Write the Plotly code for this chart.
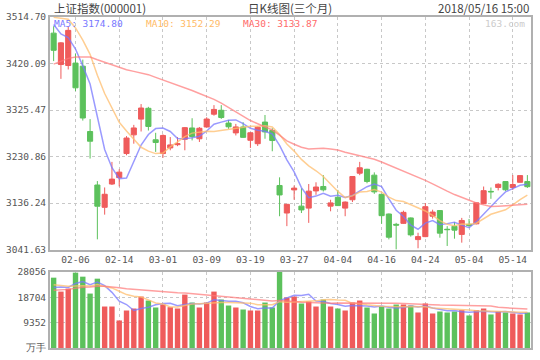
import numpy as np
import plotly.graph_objects as go

# ---------------- data ----------------
dates = ["02-01", "02-02", "02-05", "02-06", "02-07", "02-08", "02-09", "02-12", "02-13", "02-14",
         "02-22", "02-23", "02-26", "02-27", "02-28", "03-01", "03-02", "03-05", "03-06", "03-07",
         "03-08", "03-09", "03-12", "03-13", "03-14", "03-15", "03-16", "03-19", "03-20", "03-21",
         "03-22", "03-23", "03-26", "03-27", "03-28", "03-29", "03-30", "04-02", "04-03", "04-04",
         "04-09", "04-10", "04-11", "04-12", "04-13", "04-16", "04-17", "04-18", "04-19", "04-20",
         "04-23", "04-24", "04-25", "04-26", "04-27", "05-02", "05-03", "05-04", "05-07", "05-08",
         "05-09", "05-10", "05-11", "05-14", "05-15", "05-16"]

opens = [3481.9, 3418.0, 3416.0, 3421.0, 3414.7, 3281.8, 3173.0, 3127.6, 3175.0, 3188.0,
         3237.0, 3275.0, 3307.0, 3329.0, 3265.0, 3237.0, 3248.4, 3255.0, 3266.0, 3289.0,
         3267.0, 3291.0, 3317.0, 3325.0, 3299.0, 3279.0, 3291.0, 3264.0, 3257.0, 3301.0,
         3284.0, 3172.0, 3116.0, 3163.0, 3130.0, 3126.0, 3161.0, 3170.0, 3130.0, 3148.0,
         3126.0, 3143.0, 3197.0, 3205.0, 3193.0, 3154.0, 3114.0, 3093.0, 3095.0, 3106.0,
         3062.0, 3068.0, 3109.5, 3121.0, 3083.0, 3089.0, 3072.5, 3093.0, 3094.0, 3135.0,
         3160.0, 3168.0, 3180.0, 3168.0, 3178.5, 3180.0]
highs = [3496.0, 3463.5, 3494.5, 3440.0, 3428.0, 3307.0, 3181.0, 3168.0, 3220.0, 3205.0,
         3272.5, 3295.3, 3337.6, 3332.0, 3279.2, 3276.0, 3270.5, 3270.5, 3291.0, 3308.8,
         3291.0, 3310.8, 3335.5, 3335.5, 3305.4, 3297.3, 3300.7, 3280.5, 3292.0, 3315.4,
         3288.6, 3188.6, 3134.2, 3171.9, 3166.4, 3175.0, 3178.5, 3193.2, 3143.0, 3163.0,
         3139.6, 3190.5, 3220.0, 3206.0, 3198.7, 3155.0, 3115.0, 3096.0, 3120.8, 3107.0,
         3075.9, 3136.3, 3122.8, 3122.0, 3089.3, 3097.4, 3106.1, 3104.0, 3137.0, 3169.9,
         3167.9, 3176.5, 3181.0, 3193.2, 3193.0, 3193.2]
lows = [3425.0, 3388.9, 3408.0, 3364.0, 3304.0, 3226.8, 3062.5, 3112.7, 3173.0, 3170.0,
        3233.5, 3257.0, 3281.8, 3283.8, 3240.3, 3228.3, 3243.6, 3252.0, 3243.6, 3263.7,
        3260.5, 3290.0, 3314.0, 3307.4, 3287.2, 3273.8, 3269.0, 3248.4, 3252.4, 3267.1,
        3241.6, 3109.5, 3089.3, 3143.0, 3116.0, 3096.0, 3153.0, 3159.8, 3119.5, 3130.5,
        3109.5, 3138.3, 3193.0, 3176.5, 3155.0, 3094.0, 3062.4, 3041.63, 3094.0, 3068.0,
        3044.3, 3067.0, 3104.7, 3065.8, 3049.0, 3063.8, 3055.7, 3087.0, 3093.0, 3134.0,
        3144.9, 3162.0, 3161.0, 3163.0, 3178.0, 3167.0]
closes = [3446.98, 3462.08, 3487.50, 3370.65, 3309.26, 3262.05, 3129.85, 3154.13, 3184.96, 3199.16,
          3268.56, 3289.02, 3329.57, 3292.07, 3259.41, 3273.76, 3254.53, 3256.93, 3289.64, 3271.67,
          3288.41, 3307.17, 3326.70, 3310.24, 3291.38, 3291.11, 3269.88, 3279.25, 3290.64, 3280.95,
          3263.48, 3152.76, 3133.72, 3166.65, 3122.29, 3160.53, 3168.90, 3163.18, 3136.63, 3131.11,
          3138.29, 3190.32, 3208.08, 3180.16, 3159.05, 3110.65, 3066.80, 3091.40, 3117.38, 3071.54,
          3068.01, 3128.93, 3117.97, 3075.03, 3082.23, 3081.18, 3100.86, 3091.03, 3136.65, 3161.50,
          3159.15, 3174.41, 3163.26, 3174.03, 3192.12, 3169.57]
volumes = [25960, 20820, 21920, 27800, 26330, 20090, 25590, 15310, 15310, 10170,
           13840, 14580, 18990, 17520, 14950, 16050, 15070, 14580, 19720, 16780,
           14950, 16780, 20820, 17890, 15680, 14950, 14210, 13840, 13840, 16780,
           14950, 28056, 18620, 18990, 16420, 17150, 15310, 17890, 15310, 14580,
           13840, 16780, 17520, 14950, 12740, 15310, 14580, 16050, 16050, 15680,
           13110, 16420, 12740, 13470, 13110, 13470, 13960, 12010, 13960, 14580,
           12380, 13470, 13110, 12740, 12380, 13110]

# the 29 sessions before 02-01, needed for the moving averages
prior_closes = [3300.06, 3297.06, 3280.46, 3306.12, 3275.78, 3296.38, 3307.17,
                3348.33, 3369.11, 3385.71, 3391.75, 3409.48, 3413.90, 3421.83, 3425.34,
                3428.94, 3410.49, 3436.59, 3444.67, 3474.75, 3487.86, 3501.36, 3546.50,
                3559.47, 3548.31, 3558.13, 3523.00, 3488.01, 3480.83]
prior_volumes = [15800, 16500, 14200, 15600, 17900, 16300, 17100, 20500, 22300, 22800,
                 21900, 23100, 22400, 24300, 23800, 19700, 21500, 23600, 24100, 22100,
                 23200, 24900, 26800, 25100, 21700, 19800, 22600, 20400, 22690]

tick_dates = ["02-06", "02-14", "03-01", "03-09", "03-19", "03-27", "04-04", "04-16", "04-24", "05-04", "05-14"]
price_ticks = [3041.63, 3136.24, 3230.86, 3325.47, 3420.09, 3514.70]
vol_ticks = [0, 9352, 18704, 28056]
vol_tick_text = ["万手", "9352", "18704", "28056"]
ma_periods = [5, 10, 30]
ma_last_labels = [3174.80, 3152.29, 3133.87]

title_left = "上证指数(000001)"
title_mid = "日K线图(三个月)"
title_right = "2018/05/16 15:00"
watermark = "163.com"

# ---------------- styling ----------------
RED = "#ef5b5b"
GREEN = "#5cc15c"
MA_LINE = ["rgba(120,120,255,0.75)", "rgba(255,190,110,0.75)", "rgba(255,120,120,0.7)"]
MA_TEXT = ["#7878ff", "#ffbb66", "#ff6a6a"]
NUM_FONT = "DejaVu Sans Mono"
CJK_FONT = "Noto Sans CJK SC"
AXIS_TXT = "#555555"
BORDER = "#b0b0b0"
GRID = "#c8c8c8"

W, H = 540, 360
L, R, T, B = 50, 6.5, 17, 9
PW, PH = W - L - R, H - T - B


def px(x):
    return (x - L) / PW


def py(y):
    return (H - B - y) / PH


def moving_avg(series, n, prior):
    full = list(prior) + list(series)
    k = len(prior)
    return [float(np.mean(full[k + i - n + 1:k + i + 1])) for i in range(len(series))]


idx = list(range(len(dates)))
tick_idx = [dates.index(d) for d in tick_dates]
colors = [RED if c >= o else GREEN for o, c in zip(opens, closes)]

fig = go.Figure()

fig.add_trace(go.Candlestick(
    x=idx, open=opens, high=highs, low=lows, close=closes,
    increasing=dict(line=dict(color=RED, width=1), fillcolor=RED),
    decreasing=dict(line=dict(color=GREEN, width=1), fillcolor=GREEN),
    whiskerwidth=0, showlegend=False, hoverinfo="skip",
    xaxis="x", yaxis="y"))

for n, col in zip(ma_periods, MA_LINE):
    fig.add_trace(go.Scatter(x=idx, y=moving_avg(closes, n, prior_closes), mode="lines",
                             line=dict(color=col, width=1.5), showlegend=False,
                             hoverinfo="skip", xaxis="x", yaxis="y"))

fig.add_trace(go.Bar(x=idx, y=volumes, marker=dict(color=colors, line=dict(width=0)),
                     width=0.74, showlegend=False, hoverinfo="skip", xaxis="x2", yaxis="y2"))

for n, col in zip(ma_periods, MA_LINE):
    fig.add_trace(go.Scatter(x=idx, y=moving_avg(volumes, n, prior_volumes), mode="lines",
                             line=dict(color=col, width=1.5), showlegend=False,
                             hoverinfo="skip", xaxis="x2", yaxis="y2"))

vol_top = 274.3
price_bottom = 251.7

axis_common = dict(showline=True, mirror=True, linecolor=BORDER, linewidth=2,
                   ticks="", zeroline=False, fixedrange=True)

fig.update_layout(
    width=W, height=H,
    margin=dict(l=L, r=R, t=T, b=B, pad=0),
    paper_bgcolor="white", plot_bgcolor="white",
    hovermode=False, showlegend=False, dragmode=False,
    boxgap=0.3, boxgroupgap=0.0,
    xaxis=dict(domain=[0, 1], range=[-0.5, len(dates) - 0.5], anchor="y",
               tickmode="array", tickvals=tick_idx, ticktext=tick_dates,
               showgrid=True, gridcolor=GRID, griddash="3px,3px", gridwidth=1,
               rangeslider=dict(visible=False),
               tickfont=dict(family=NUM_FONT, size=9.5, color=AXIS_TXT),
               **axis_common),
    yaxis=dict(domain=[py(price_bottom), 1], range=[price_ticks[0], price_ticks[-1]], anchor="x",
               tickmode="array", tickvals=price_ticks,
               ticktext=[f"{v:.2f}" for v in price_ticks],
               showgrid=True, gridcolor=GRID, griddash="3px,3px", gridwidth=1,
               tickfont=dict(family=NUM_FONT, size=9.5, color=AXIS_TXT),
               **axis_common),
    xaxis2=dict(domain=[0, 1], range=[-0.5, len(dates) - 0.5], anchor="y2",
                tickmode="array", tickvals=tick_idx, showticklabels=False,
                showgrid=True, gridcolor=GRID, griddash="3px,3px", gridwidth=1,
                **axis_common),
    yaxis2=dict(domain=[0, py(vol_top)], range=[0, vol_ticks[-1]], anchor="x2",
                tickmode="array", tickvals=vol_ticks, ticktext=vol_tick_text,
                showgrid=True, gridcolor=GRID, griddash="3px,3px", gridwidth=1,
                tickfont=dict(family=NUM_FONT, size=9.5, color=AXIS_TXT),
                **axis_common),
)

ann = []
ann.append(dict(text=title_left, x=px(52), y=py(8), xanchor="left", yanchor="middle",
                font=dict(family=CJK_FONT, size=11.5, color="#444444")))
ann.append(dict(text=title_mid, x=px(247), y=py(8), xanchor="left", yanchor="middle",
                font=dict(family=CJK_FONT, size=11.5, color="#444444")))
ann.append(dict(text=title_right, x=px(533), y=py(8), xanchor="right", yanchor="middle",
                font=dict(family=CJK_FONT, size=11.5, color="#444444")))
ma_x = [52, 144, 242]
for n, v, c, x0 in zip(ma_periods, ma_last_labels, MA_TEXT, ma_x):
    ann.append(dict(text=f"MA{n}: {v:.2f}", x=px(x0), y=py(23.5), xanchor="left", yanchor="middle",
                    font=dict(family=NUM_FONT, size=9.5, color=c)))
ann.append(dict(text=watermark, x=px(529), y=py(23.5), xanchor="right", yanchor="middle",
                font=dict(family=NUM_FONT, size=9.5, color="#cccccc")))
for a in ann:
    a.update(xref="paper", yref="paper", showarrow=False)
fig.update_layout(annotations=ann)

fig.write_html("out.html", config={"displayModeBar": False, "staticPlot": True},
               post_script="document.body.style.margin='0';document.body.style.overflow='hidden';")
